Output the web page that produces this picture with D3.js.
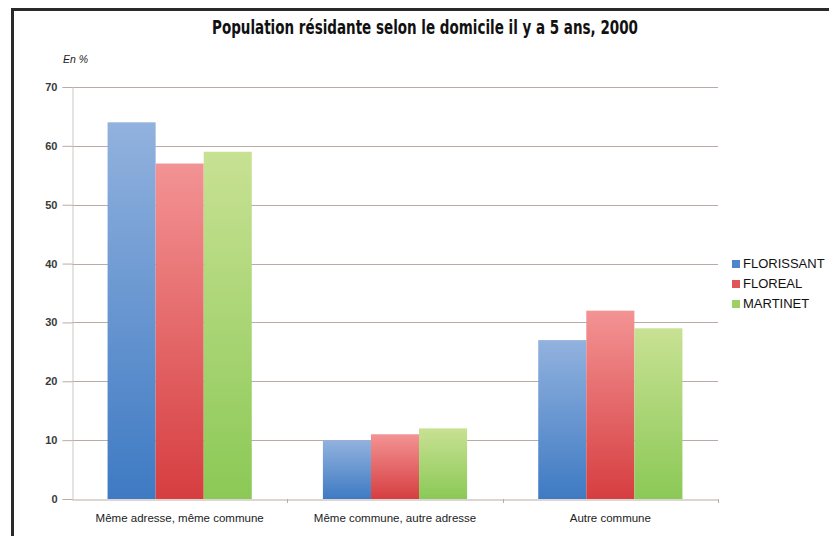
<!DOCTYPE html>
<html>
<head>
<meta charset="utf-8">
<script src="https://cdn.jsdelivr.net/npm/d3@7"></script>
<style>
  html, body { margin: 0; padding: 0; background: #fff; }
  svg { display: block; }
</style>
</head>
<body>
<svg id="chart" width="829" height="536"></svg>
<script>
// Data
const categories = ["Même adresse, même commune", "Même commune, autre adresse", "Autre commune"];
const seriesNames = ["FLORISSANT", "FLOREAL", "MARTINET"];
const florissant = [64, 10, 27];
const floreal = [57, 11, 32];
const martinet = [59, 12, 29];
const yTicks = [0, 10, 20, 30, 40, 50, 60, 70];

const seriesValues = [florissant, floreal, martinet];
const palette = [
  { top: "#92b2de", bottom: "#3e7ac3", key: "#4f86c9" },
  { top: "#f39394", bottom: "#d63e40", key: "#e05557" },
  { top: "#c8e193", bottom: "#8bc956", key: "#9fd068" }
];

const svg = d3.select("#chart");
const W = 829, H = 536;
const margin = { left: 72, right: 111, top: 87, bottom: 37 };

// Frame
svg.append("rect").attr("x", 0).attr("y", 0).attr("width", W).attr("height", H).attr("fill", "#fff");
svg.append("path")
  .attr("d", `M12.5,${H} V9.5 H${W}`)
  .attr("fill", "none").attr("stroke", "#2a2a2a").attr("stroke-width", 3);

const x0 = d3.scaleBand().domain(categories).range([margin.left, W - margin.right]).paddingInner(0).paddingOuter(0);
const x1 = d3.scaleBand().domain(seriesNames).range([0, x0.bandwidth()]).paddingOuter(0.74).paddingInner(0);
const y = d3.scaleLinear().domain([0, 70]).range([H - margin.bottom, margin.top]);

// Gradients
const defs = svg.append("defs");
palette.forEach((p, i) => {
  const g = defs.append("linearGradient").attr("id", "grad" + i)
    .attr("x1", 0).attr("y1", 0).attr("x2", 0).attr("y2", 1);
  g.append("stop").attr("offset", "0%").attr("stop-color", p.top);
  g.append("stop").attr("offset", "100%").attr("stop-color", p.bottom);
});

// Gridlines
const gridColor = "#b9aca6";
svg.append("g").selectAll("line").data(yTicks.filter(t => t > 0)).join("line")
  .attr("x1", margin.left).attr("x2", W - margin.right)
  .attr("y1", d => Math.round(y(d)) + 0.5).attr("y2", d => Math.round(y(d)) + 0.5)
  .attr("stroke", gridColor).attr("stroke-width", 1);

// Y axis
const yAxis = svg.append("g").attr("transform", `translate(${margin.left + 0.5},0)`)
  .call(d3.axisLeft(y).tickValues(yTicks).tickSize(10).tickPadding(5));
yAxis.select(".domain").attr("stroke", "#cfc6c2");
yAxis.selectAll(".tick line").attr("stroke", gridColor);
yAxis.selectAll(".tick text")
  .attr("font-family", "Liberation Sans, Arial, sans-serif")
  .attr("font-size", 11).attr("font-weight", "bold").attr("fill", "#3a3a3a");

// Bars
const groups = svg.append("g").selectAll("g").data(categories).join("g")
  .attr("transform", d => `translate(${x0(d)},0)`);
groups.selectAll("rect")
  .data((c, ci) => seriesNames.map((s, si) => ({ s, si, v: seriesValues[si][ci] })))
  .join("rect")
  .attr("x", d => x1(d.s))
  .attr("width", x1.bandwidth())
  .attr("y", d => y(d.v))
  .attr("height", d => y(0) - y(d.v))
  .attr("fill", d => `url(#grad${d.si})`);

// X axis
const xAxis = svg.append("g").attr("transform", `translate(0,${y(0) + 0.5})`)
  .call(d3.axisBottom(x0).tickSize(0).tickPadding(14));
xAxis.select(".domain").attr("stroke", gridColor);
xAxis.selectAll(".tick text")
  .attr("font-family", "Liberation Sans, Arial, sans-serif")
  .attr("font-size", 11.5).attr("fill", "#222");
// Category separators
svg.append("g").selectAll("line").data(categories.slice(1).concat(["end"])).join("line")
  .attr("x1", (d, i) => Math.round(i < 2 ? x0(d) : W - margin.right) + 0.5)
  .attr("x2", (d, i) => Math.round(i < 2 ? x0(d) : W - margin.right) + 0.5)
  .attr("y1", y(0)).attr("y2", y(0) + 4)
  .attr("stroke", gridColor);

// Title
svg.append("text")
  .attr("x", 425).attr("y", 34)
  .attr("text-anchor", "middle")
  .attr("font-family", "Liberation Sans Narrow, DejaVu Sans Condensed, Arial Narrow, sans-serif")
  .attr("font-weight", "bold").attr("font-size", 19)
  .attr("textLength", 426).attr("lengthAdjust", "spacingAndGlyphs")
  .attr("fill", "#111")
  .text("Population résidante selon le domicile il y a 5 ans, 2000");

// Unit label
svg.append("text")
  .attr("x", 63).attr("y", 63)
  .attr("font-family", "Liberation Sans, Arial, sans-serif")
  .attr("font-style", "italic").attr("font-size", 10.5).attr("fill", "#222")
  .text("En %");

// Legend
const legend = svg.append("g").selectAll("g").data(seriesNames).join("g")
  .attr("transform", (d, i) => `translate(732,${268 + i * 20})`);
legend.append("rect").attr("x", 0).attr("y", -8).attr("width", 8).attr("height", 8)
  .attr("fill", (d, i) => palette[i].key);
legend.append("text").attr("x", 11).attr("y", 0)
  .attr("font-family", "Liberation Sans, Arial, sans-serif")
  .attr("font-size", 13).attr("fill", "#111")
  .text(d => d);
</script>
</body>
</html>
